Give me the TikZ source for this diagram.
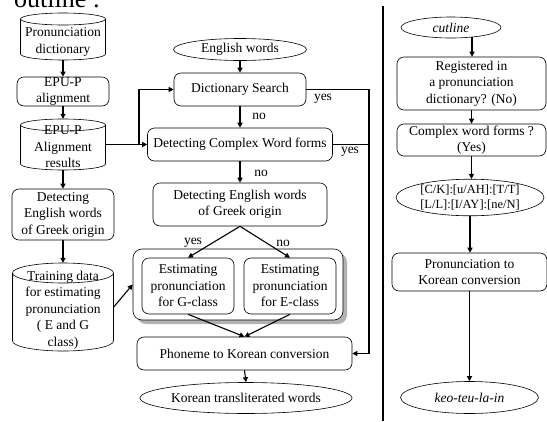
\documentclass[tikz,border=0pt]{standalone}
\usepackage{fontspec}
\setmainfont{Liberation Serif}
\usetikzlibrary{arrows.meta,shapes.geometric,calc}
\newcommand{\cylnode}[8]{%
 \node[inner sep=0pt, minimum width=#4pt, minimum height=#5pt] (#1) at (#2, {#3+#5/2}) {};
 \draw[shp] ({#2-#4/2}, {#3+#6}) -- ({#2-#4/2}, {#3+#5-#6}) arc[start angle=180, end angle=0, x radius=#4/2, y radius=#6] -- ({#2+#4/2}, {#3+#6});
 \draw[shp] (#2, {#3+#6}) ellipse[x radius=#4/2, y radius=#6];
 \node[txt] (#1-t) at (#2, #7) {#8};
}
\begin{document}
\begin{tikzpicture}[x=1pt,y=-1pt,
  txt/.style={font=\fontsize{13.5}{16.5}\selectfont, align=center, inner sep=0pt},
  box/.style={txt, draw, rounded corners=7pt, line width=0.6pt, fill=white},
  ell/.style={txt, draw, ellipse, line width=0.6pt, fill=white},
  shp/.style={line width=0.6pt},
  conn/.style={line width=1.1pt, -{Triangle[length=5pt,width=5pt]}},
  wire/.style={line width=1.1pt},
  lbl/.style={font=\fontsize{13.5}{16.5}\selectfont, inner sep=0pt}
]
\useasboundingbox (0,0) rectangle (547,421);
\begin{scope}
\clip (0,0) rectangle (547,421);
\node[anchor=base west, inner sep=0pt, font=\fontsize{26}{28}\selectfont] (ttl) at (14,7) {outline :};
\end{scope}

% divider
\draw[line width=1.6pt] (383,6) -- (383,421);

% left column
\cylnode{pd}{63}{13}{85}{47}{6}{42}{Pronunciation\\dictionary}
\node[box, minimum width=92pt, minimum height=29pt] (epa) at (63,91.5) {EPU-P\\alignment};
\cylnode{epr}{63}{119}{85}{51}{6}{147}{EPU-P\\Alignment\\results}
\node[box, minimum width=102pt, minimum height=51pt] (dgl) at (63,214.5) {Detecting\\English words\\of Greek origin};
\cylnode{trn}{63}{263}{101}{88}{10}{310}{Training data\\for estimating\\pronunciation\\( E and G\\class)}

% middle column
\node[ell, minimum width=133pt, minimum height=22pt] (ew) at (240,49.5) {English words};
\node[box, minimum width=132pt, minimum height=33pt] (ds) at (240,89.5) {Dictionary Search};
\node[box, minimum width=185pt, minimum height=33pt] (dc) at (240,144.5) {Detecting Complex Word forms};
\node[box, minimum width=174pt, minimum height=43pt] (dg) at (240,204.5) {Detecting English words\\of Greek origin};
\node[fill=gray!60, rounded corners=9pt, minimum width=210pt, minimum height=71pt, inner sep=0pt] (grps) at (242,288.5) {};
\node[draw, fill=white, rounded corners=9pt, minimum width=210pt, minimum height=71pt, inner sep=0pt, line width=0.6pt] (grp) at (238,284.5) {};
\node[box, minimum width=92pt, minimum height=56pt] (eg) at (188,286) {Estimating\\pronunciation\\for G-class};
\node[box, minimum width=92pt, minimum height=56pt] (ee) at (290,286) {Estimating\\pronunciation\\for E-class};
\node[box, minimum width=215pt, minimum height=33pt] (ph) at (244.5,353.5) {Phoneme to Korean conversion};
\node[ell, minimum width=174pt, minimum height=31pt] (kt) at (246,398) {Korean transliterated words};

% right column
\node[ell, minimum width=100pt, minimum height=21pt] (cut) at (451,27.5) {\itshape cutline};
\node[box, minimum width=149pt, minimum height=53pt] (reg) at (471.5,83.5) {Registered in\\a pronunciation\\dictionary? (No)};
\node[box, minimum width=149pt, minimum height=32pt, font=\fontsize{13.5}{15.5}\selectfont] (cwf) at (471.5,140) {Complex word forms ?\\(Yes)};
\node[ell, minimum width=148pt, minimum height=35pt, font=\fontsize{12.5}{15.5}\selectfont] (ck) at (470,197.5) {{[C/K]:[u/AH]:[T/T]}\\{}{[L/L]:[I/AY]:[ne/N]}};
\node[box, minimum width=155pt, minimum height=38pt, font=\fontsize{13.5}{15.5}\selectfont] (pk) at (469.5,272) {Pronunciation to\\Korean conversion};
\node[ell, minimum width=138pt, minimum height=32pt] (keo) at (469.5,397.5) {\itshape keo-teu-la-in};

% labels
\node[lbl] (y1) at (323,99) {yes};
\node[lbl] (n1) at (259,116) {no};
\node[lbl] (y2) at (350,152) {yes};
\node[lbl] (n2) at (261,173) {no};
\node[lbl] (y3) at (193,243) {yes};
\node[lbl] (n3) at (283,243) {no};

% connectors left
\draw[conn] (pd.south) -- (epa.north);
\draw[conn] (epa.south) -- (epr.north);
\draw[conn] (epr.south) -- (dgl.north);
\draw[conn] (dgl.south) -- (trn.north);
\coordinate (br) at (139,144.5);
\draw[conn] (epr.east) -- (dc.west);
\draw[conn] (br) |- (ds.west);
\draw[conn] (trn.east) -- (grp.west);

% connectors middle
\draw[conn] (ew.south) -- (ds.north);
\draw[conn] (ds.south) -- (dc.north);
\draw[conn] (dc.south) -- (dg.north);
\coordinate (rt) at (369,89.5);
\draw[conn] (ds.east) -- (rt) |- (ph.east);
\draw[wire] (dc.east) -- (dc.east -| rt);
\draw[conn] (dg.south) -- (eg.north);
\draw[conn] (dg.south) -- (ee.north);
\draw[conn] (eg.south) -- (ph.north);
\draw[conn] (ee.south) -- (ph.north);
\draw[conn] (ph.south) -- (kt.north);

% connectors right
\draw[conn] (cut.-25) -- (cut.-25 |- reg.north);
\draw[conn] (reg.south) -- (cwf.north);
\draw[conn] (cwf.south) -- (cwf.south |- ck.north);
\draw[conn] (ck.south) -- (ck.south |- pk.north);
\draw[conn] (pk.south) -- (keo.north);
\end{tikzpicture}
\end{document}
